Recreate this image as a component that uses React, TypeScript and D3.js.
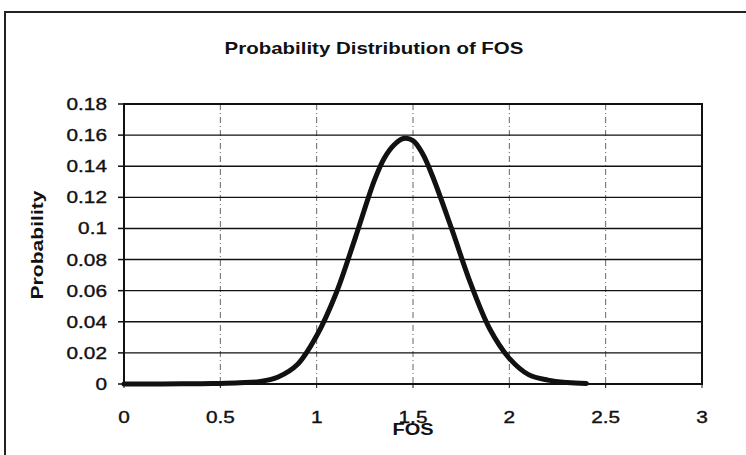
import React from "react";
import * as d3 from "d3";

// FOS values and the probability of each
const fosValues = [0, 0.1, 0.2, 0.3, 0.4, 0.5, 0.6, 0.7, 0.8, 0.9, 1.0, 1.1, 1.2, 1.3, 1.35, 1.4, 1.45, 1.5, 1.55, 1.6, 1.7, 1.8, 1.9, 2.0, 2.1, 2.2, 2.3, 2.4];
const probValues = [0, 0, 0, 0.0001, 0.0002, 0.0004, 0.0008, 0.0015, 0.0045, 0.0125, 0.031, 0.058, 0.0938, 0.131, 0.145, 0.1535, 0.1578, 0.1565, 0.148, 0.134, 0.1, 0.0643, 0.035, 0.0165, 0.006, 0.0025, 0.001, 0.0004];

const xTicks = [0, 0.5, 1, 1.5, 2, 2.5, 3];
const yTicks = [0, 0.02, 0.04, 0.06, 0.08, 0.1, 0.12, 0.14, 0.16, 0.18];

const title = "Probability Distribution of FOS";
const xTitle = "FOS";
const yTitle = "Probability";

const W = 746;
const H = 455;
const plot = { left: 124, right: 702, top: 104, bottom: 384 };
const FONT = "'Liberation Sans', Arial, sans-serif";
const STRETCH = 1.3;

export default function App() {
  const x = d3.scaleLinear().domain([0, 3]).range([plot.left, plot.right]);
  const y = d3.scaleLinear().domain([0, 0.18]).range([plot.bottom, plot.top]);

  const pts: [number, number][] = fosValues.map((f, i) => [f, probValues[i]]);
  const line = d3
    .line<[number, number]>()
    .x((d) => x(d[0]))
    .y((d) => y(d[1]))
    .curve(d3.curveCatmullRom.alpha(0.5));

  return (
    <svg
      width={W}
      height={H}
      style={{ position: "absolute", left: 0, top: 0, background: "#fff" }}
      fontFamily={FONT}
    >
      {/* chart frame */}
      <rect x={5} y={12} width={760} height={460} fill="none" stroke="#222" strokeWidth={2} />

      <text
        transform={`translate(374,54) scale(1.24,1)`}
        textAnchor="middle"
        fontSize={16.5}
        fontWeight="bold"
        fill="#111"
      >
        {title}
      </text>

      {/* vertical dash-dot gridlines */}
      {xTicks.slice(1, -1).map((t) => (
        <line
          key={"vx" + t}
          x1={x(t)}
          x2={x(t)}
          y1={plot.top}
          y2={plot.bottom}
          stroke="#666"
          strokeWidth={1}
          strokeDasharray="6 3 1 3"
        />
      ))}

      {/* horizontal gridlines */}
      {yTicks.slice(1, -1).map((t) => (
        <line key={"hy" + t} x1={plot.left} x2={plot.right} y1={y(t)} y2={y(t)} stroke="#111" strokeWidth={1.4} />
      ))}

      {/* plot border */}
      <rect
        x={plot.left}
        y={plot.top}
        width={plot.right - plot.left}
        height={plot.bottom - plot.top}
        fill="none"
        stroke="#111"
        strokeWidth={2}
      />

      {/* y axis ticks and labels */}
      {yTicks.map((t) => (
        <g key={"yt" + t}>
          <line x1={plot.left - 6} x2={plot.left} y1={y(t)} y2={y(t)} stroke="#111" strokeWidth={1.5} />
          <text
            transform={`translate(107,${y(t) + 6}) scale(${STRETCH},1)`}
            textAnchor="end"
            fontSize={16}
            fill="#111"
            stroke="#111"
            strokeWidth={0.35}
          >
            {String(t)}
          </text>
        </g>
      ))}

      {/* x axis ticks and labels */}
      {xTicks.map((t) => (
        <g key={"xt" + t}>
          <line x1={x(t)} x2={x(t)} y1={plot.bottom} y2={plot.bottom + 4} stroke="#111" strokeWidth={1} />
          <text
            transform={`translate(${x(t)},${423}) scale(${STRETCH},1)`}
            textAnchor="middle"
            fontSize={16}
            fill="#111"
            stroke="#111"
            strokeWidth={0.35}
          >
            {String(t)}
          </text>
        </g>
      ))}

      <text
        transform={`translate(413,435) scale(1.25,1)`}
        textAnchor="middle"
        fontSize={16}
        fontWeight="bold"
        fill="#111"
      >
        {xTitle}
      </text>

      <text
        transform={`translate(43,245) rotate(-90) scale(1.32,1)`}
        textAnchor="middle"
        fontSize={16}
        fontWeight="bold"
        fill="#111"
      >
        {yTitle}
      </text>

      {/* distribution curve */}
      <path d={line(pts) ?? ""} fill="none" stroke="#111" strokeWidth={5} strokeLinejoin="round" strokeLinecap="round" />
    </svg>
  );
}
